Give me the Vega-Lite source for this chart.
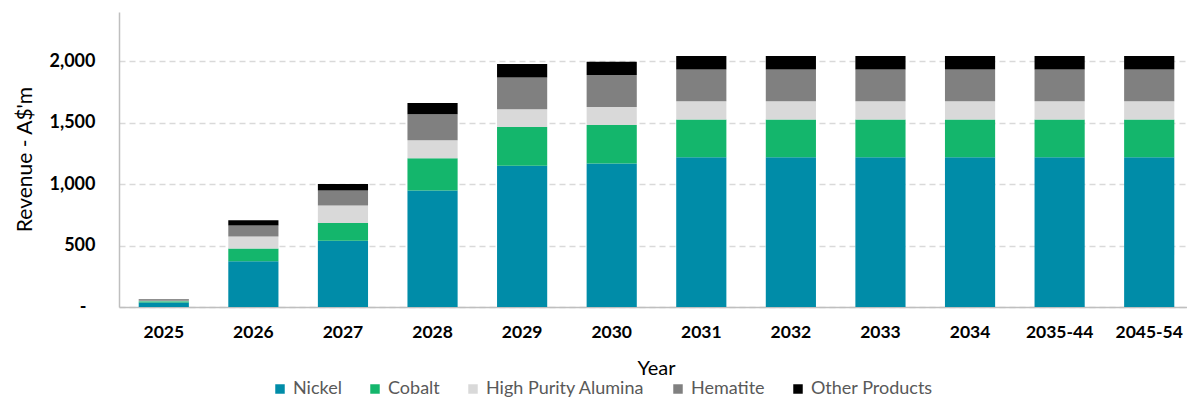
{
  "$schema": "https://vega.github.io/schema/vega-lite/v6.json",
  "autosize": {"type": "none"},
  "width": 1075,
  "height": 295,
  "padding": {"left": 119, "top": 12, "right": 0, "bottom": 98},
  "background": "white",
  "config": {
    "view": {"stroke": null},
    "font": "Lato"
  },
  "data": {
    "values": [
      {"year": "2025", "product": "Nickel", "ord": 1, "value": 36},
      {"year": "2025", "product": "Cobalt", "ord": 2, "value": 10},
      {"year": "2025", "product": "High Purity Alumina", "ord": 3, "value": 5},
      {"year": "2025", "product": "Hematite", "ord": 4, "value": 10},
      {"year": "2025", "product": "Other Products", "ord": 5, "value": 2},
      {"year": "2026", "product": "Nickel", "ord": 1, "value": 372},
      {"year": "2026", "product": "Cobalt", "ord": 2, "value": 103},
      {"year": "2026", "product": "High Purity Alumina", "ord": 3, "value": 98},
      {"year": "2026", "product": "Hematite", "ord": 4, "value": 90},
      {"year": "2026", "product": "Other Products", "ord": 5, "value": 43},
      {"year": "2027", "product": "Nickel", "ord": 1, "value": 540},
      {"year": "2027", "product": "Cobalt", "ord": 2, "value": 143},
      {"year": "2027", "product": "High Purity Alumina", "ord": 3, "value": 142},
      {"year": "2027", "product": "Hematite", "ord": 4, "value": 122},
      {"year": "2027", "product": "Other Products", "ord": 5, "value": 54},
      {"year": "2028", "product": "Nickel", "ord": 1, "value": 947},
      {"year": "2028", "product": "Cobalt", "ord": 2, "value": 263},
      {"year": "2028", "product": "High Purity Alumina", "ord": 3, "value": 146},
      {"year": "2028", "product": "Hematite", "ord": 4, "value": 212},
      {"year": "2028", "product": "Other Products", "ord": 5, "value": 92},
      {"year": "2029", "product": "Nickel", "ord": 1, "value": 1150},
      {"year": "2029", "product": "Cobalt", "ord": 2, "value": 314},
      {"year": "2029", "product": "High Purity Alumina", "ord": 3, "value": 144},
      {"year": "2029", "product": "Hematite", "ord": 4, "value": 260},
      {"year": "2029", "product": "Other Products", "ord": 5, "value": 108},
      {"year": "2030", "product": "Nickel", "ord": 1, "value": 1167},
      {"year": "2030", "product": "Cobalt", "ord": 2, "value": 314},
      {"year": "2030", "product": "High Purity Alumina", "ord": 3, "value": 146},
      {"year": "2030", "product": "Hematite", "ord": 4, "value": 260},
      {"year": "2030", "product": "Other Products", "ord": 5, "value": 109},
      {"year": "2031", "product": "Nickel", "ord": 1, "value": 1218},
      {"year": "2031", "product": "Cobalt", "ord": 2, "value": 307},
      {"year": "2031", "product": "High Purity Alumina", "ord": 3, "value": 149},
      {"year": "2031", "product": "Hematite", "ord": 4, "value": 258},
      {"year": "2031", "product": "Other Products", "ord": 5, "value": 111},
      {"year": "2032", "product": "Nickel", "ord": 1, "value": 1218},
      {"year": "2032", "product": "Cobalt", "ord": 2, "value": 307},
      {"year": "2032", "product": "High Purity Alumina", "ord": 3, "value": 149},
      {"year": "2032", "product": "Hematite", "ord": 4, "value": 258},
      {"year": "2032", "product": "Other Products", "ord": 5, "value": 111},
      {"year": "2033", "product": "Nickel", "ord": 1, "value": 1218},
      {"year": "2033", "product": "Cobalt", "ord": 2, "value": 307},
      {"year": "2033", "product": "High Purity Alumina", "ord": 3, "value": 149},
      {"year": "2033", "product": "Hematite", "ord": 4, "value": 258},
      {"year": "2033", "product": "Other Products", "ord": 5, "value": 111},
      {"year": "2034", "product": "Nickel", "ord": 1, "value": 1218},
      {"year": "2034", "product": "Cobalt", "ord": 2, "value": 307},
      {"year": "2034", "product": "High Purity Alumina", "ord": 3, "value": 149},
      {"year": "2034", "product": "Hematite", "ord": 4, "value": 258},
      {"year": "2034", "product": "Other Products", "ord": 5, "value": 111},
      {"year": "2035-44", "product": "Nickel", "ord": 1, "value": 1218},
      {"year": "2035-44", "product": "Cobalt", "ord": 2, "value": 307},
      {"year": "2035-44", "product": "High Purity Alumina", "ord": 3, "value": 149},
      {"year": "2035-44", "product": "Hematite", "ord": 4, "value": 258},
      {"year": "2035-44", "product": "Other Products", "ord": 5, "value": 111},
      {"year": "2045-54", "product": "Nickel", "ord": 1, "value": 1218},
      {"year": "2045-54", "product": "Cobalt", "ord": 2, "value": 307},
      {"year": "2045-54", "product": "High Purity Alumina", "ord": 3, "value": 149},
      {"year": "2045-54", "product": "Hematite", "ord": 4, "value": 258},
      {"year": "2045-54", "product": "Other Products", "ord": 5, "value": 111}
    ]
  },
  "mark": {"type": "bar"},
  "encoding": {
    "x": {
      "field": "year",
      "type": "nominal",
      "sort": null,
      "scale": {"paddingInner": 0.44, "paddingOuter": 0.22},
      "axis": {
        "title": "Year",
        "labelAngle": 0,
        "labelFontSize": 17.5,
        "labelFontWeight": "bold",
        "labelColor": "#000000",
        "labelPadding": 16,
        "ticks": false,
        "domainColor": "#BFBFBF",
        "domainWidth": 1.5,
        "titleFontSize": 20,
        "titleFontWeight": "normal",
        "titleColor": "#000000",
        "titleX": 537,
        "titleY": 61,
        "titleBaseline": "middle",
        "titleAlign": "center"
      }
    },
    "y": {
      "field": "value",
      "type": "quantitative",
      "stack": "zero",
      "scale": {"domain": [0, 2400], "nice": false},
      "axis": {
        "title": "Revenue - A$'m",
        "values": [0, 500, 1000, 1500, 2000],
        "labelExpr": "datum.value == 0 ? '-' : format(datum.value, ',')",
        "labelFontSize": 18,
        "labelFontWeight": "bold",
        "labelColor": "#000000",
        "labelPadding": {"condition": {"test": "datum.value == 0", "value": 33}, "value": 24},
        "ticks": false,
        "domain": true,
        "domainColor": "#BFBFBF",
        "domainWidth": 1.5,
        "grid": true,
        "gridColor": "#D9D9D9",
        "gridWidth": 1.5,
        "gridDash": [6, 4],
        "titleFontSize": 21,
        "titleFontWeight": "normal",
        "titleColor": "#000000",
        "titleAngle": -90,
        "titleX": -94,
        "titleY": 147,
        "titleAlign": "center",
        "titleBaseline": "middle"
      }
    },
    "color": {
      "field": "product",
      "type": "nominal",
      "scale": {
        "domain": ["Nickel", "Cobalt", "High Purity Alumina", "Hematite", "Other Products"],
        "range": ["#008CA8", "#14B66C", "#D9D9D9", "#808080", "#000000"]
      },
      "legend": {
        "title": null,
        "orient": "none",
        "direction": "horizontal",
        "legendX": 152,
        "legendY": 368,
        "padding": 0,
        "symbolType": "square",
        "symbolSize": 90,
        "symbolStrokeWidth": 0,
        "labelFontSize": 18,
        "labelColor": "#595959",
        "labelOffset": 4,
        "columnPadding": 24
      }
    },
    "order": {"field": "ord", "type": "quantitative", "sort": "ascending"}
  }
}
